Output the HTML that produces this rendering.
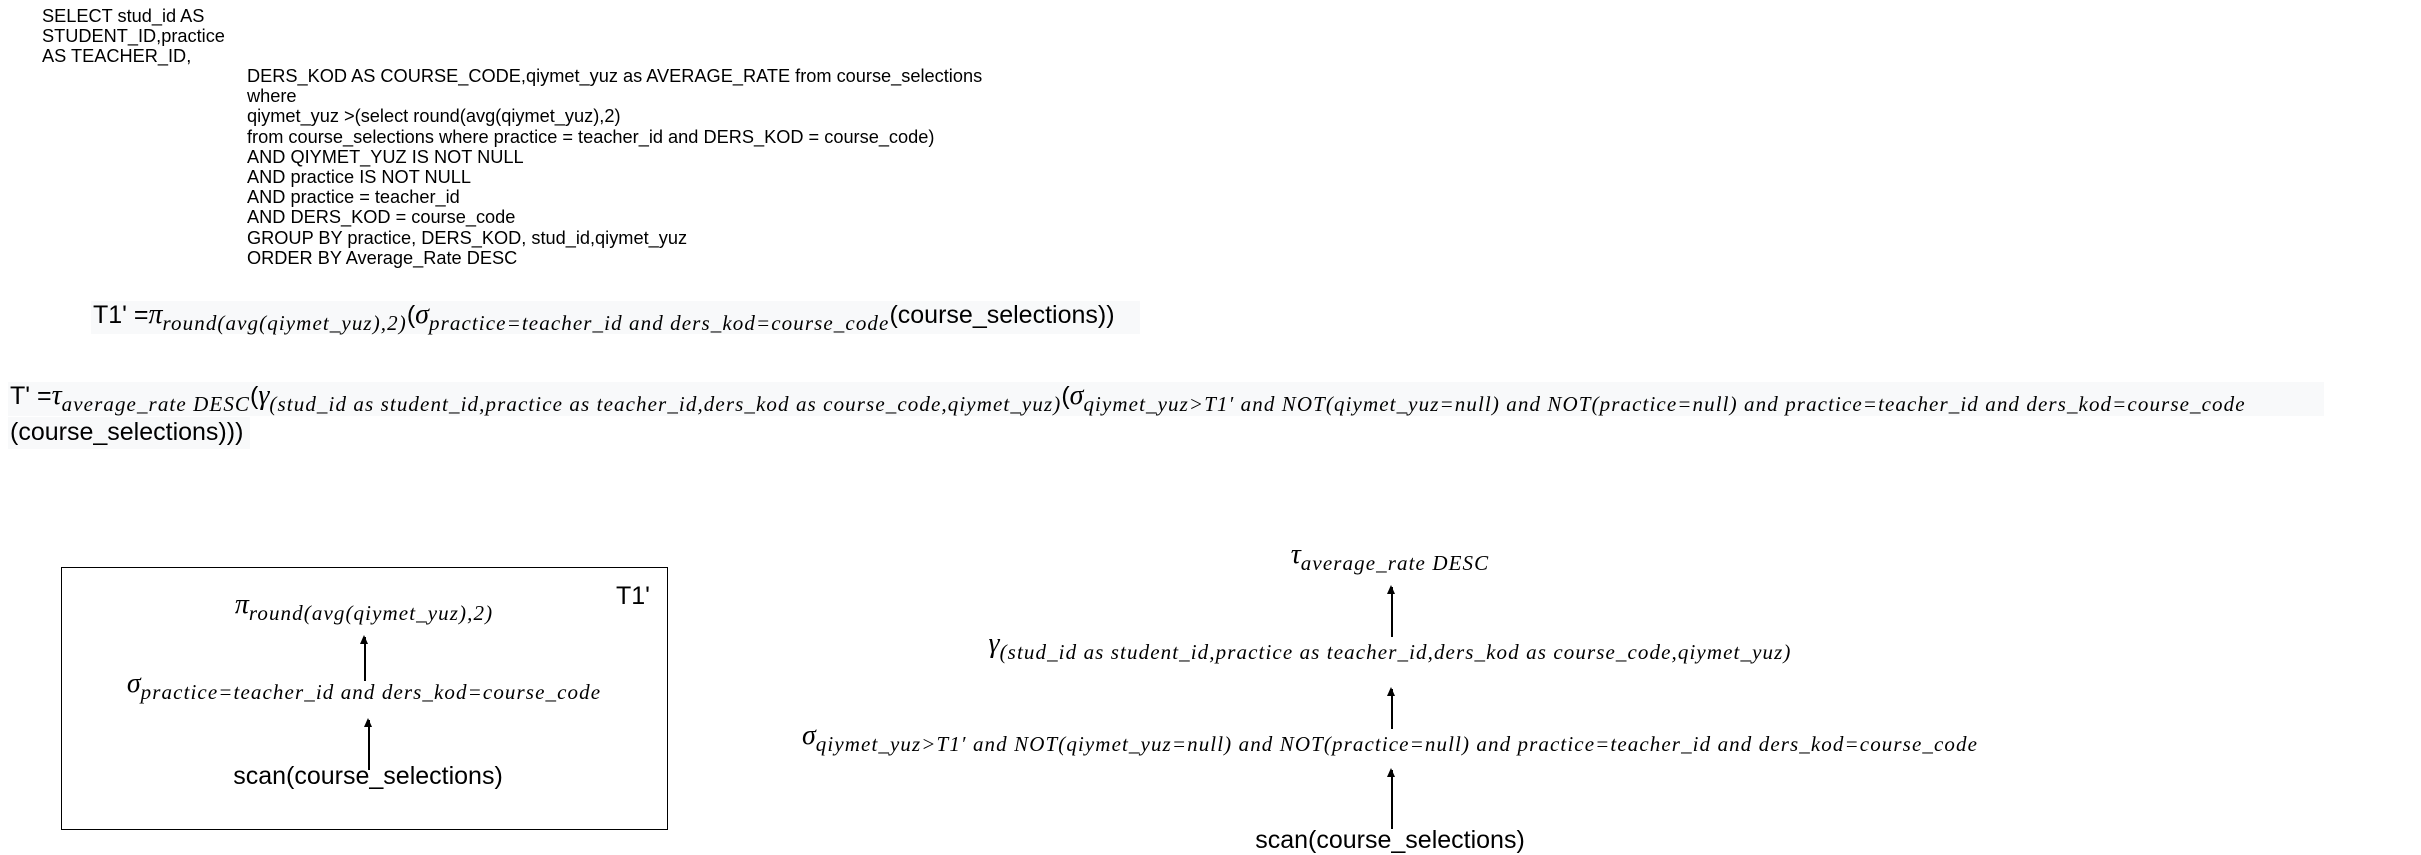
<!DOCTYPE html>
<html><head><meta charset="utf-8"><style>
body{margin:0;width:2421px;height:846px;background:#fff;position:relative;overflow:hidden;font-family:"Liberation Sans",sans-serif;color:#000}
.a{position:absolute;white-space:nowrap}
.sql{font-size:18.2px;line-height:20.2px}
.m{font-family:"Liberation Serif",serif;font-style:italic}
.big{font-size:28px}
.sub{font-size:21px;letter-spacing:1.1px;font-family:"Liberation Serif",serif;font-style:italic;position:relative;top:7px}
.t{font-size:25px}
.bg{background:#f8f9fa}
.ar{position:absolute;width:1.5px;background:#000}
.ar:before{content:"";position:absolute;left:-4px;top:-2px;border-left:4.7px solid transparent;border-right:4.7px solid transparent;border-bottom:9px solid #000}
</style></head><body>
<div class="a sql" style="left:42px;top:6px">SELECT stud_id AS<br>STUDENT_ID,practice<br>AS TEACHER_ID,</div>
<div class="a sql" style="left:247px;top:66px">DERS_KOD AS COURSE_CODE,qiymet_yuz as AVERAGE_RATE from course_selections<br>where<br>qiymet_yuz &gt;(select round(avg(qiymet_yuz),2)<br>from course_selections where practice = teacher_id and DERS_KOD = course_code)<br>AND QIYMET_YUZ IS NOT NULL<br>AND practice IS NOT NULL<br>AND practice = teacher_id<br>AND DERS_KOD = course_code<br>GROUP BY practice, DERS_KOD, stud_id,qiymet_yuz<br>ORDER BY Average_Rate DESC</div>

<div class="a bg" style="left:91px;top:301px;width:1049px;height:33px"></div>
<div class="a t" style="left:93px;top:299px">T1' =<span class="m big">π</span><span class="sub">round(avg(qiymet_yuz),2)</span>(<span class="m big">σ</span><span class="sub">practice=teacher_id and ders_kod=course_code</span>(course_selections))</div>

<div class="a bg" style="left:8px;top:382px;width:2316px;height:34px"></div>
<div class="a bg" style="left:8px;top:417px;width:242px;height:32px"></div>
<div class="a t" style="left:10px;top:380px">T' =<span class="m big">τ</span><span class="sub">average_rate DESC</span>(<span class="m big">γ</span><span class="sub">(stud_id as student_id,practice as teacher_id,ders_kod as course_code,qiymet_yuz)</span>(<span class="m big">σ</span><span class="sub">qiymet_yuz&gt;T1′ and NOT(qiymet_yuz=null) and NOT(practice=null) and practice=teacher_id and ders_kod=course_code</span></div>
<div class="a t" style="left:10px;top:418px">(course_selections)))</div>

<div class="a" style="left:61px;top:567px;width:605px;height:261px;border:1.5px solid #000"></div>
<div class="a t" style="left:616px;top:582px">T1'</div>
<div class="a" style="left:364px;top:589px;transform:translateX(-50%)"><span class="m big">π</span><span class="sub">round(avg(qiymet_yuz),2)</span></div>
<div class="ar" style="left:364px;top:637px;height:44px"></div>
<div class="a" style="left:364px;top:668px;transform:translateX(-50%)"><span class="m big">σ</span><span class="sub">practice=teacher_id and ders_kod=course_code</span></div>
<div class="ar" style="left:368px;top:720px;height:50px"></div>
<div class="a t" style="left:368px;top:762px;transform:translateX(-50%)">scan(course_selections)</div>

<div class="a" style="left:1390px;top:539px;transform:translateX(-50%)"><span class="m big">τ</span><span class="sub">average_rate DESC</span></div>
<div class="ar" style="left:1391px;top:587px;height:50px"></div>
<div class="a" style="left:1390px;top:628px;transform:translateX(-50%)"><span class="m big">γ</span><span class="sub">(stud_id as student_id,practice as teacher_id,ders_kod as course_code,qiymet_yuz)</span></div>
<div class="ar" style="left:1391px;top:689px;height:40px"></div>
<div class="a" style="left:1390px;top:720px;transform:translateX(-50%)"><span class="m big">σ</span><span class="sub">qiymet_yuz&gt;T1′ and NOT(qiymet_yuz=null) and NOT(practice=null) and practice=teacher_id and ders_kod=course_code</span></div>
<div class="ar" style="left:1391px;top:770px;height:59px"></div>
<div class="a t" style="left:1390px;top:826px;transform:translateX(-50%)">scan(course_selections)</div>
</body></html>
